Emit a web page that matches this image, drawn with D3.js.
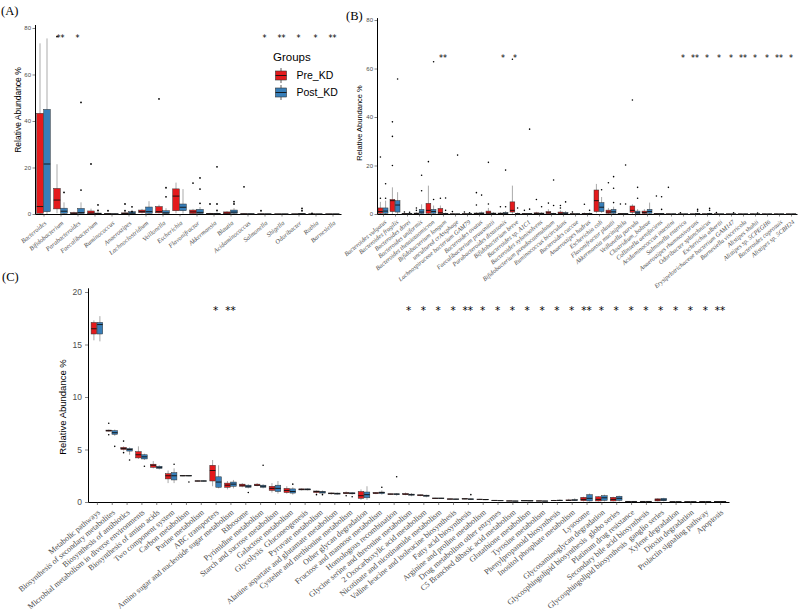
<!DOCTYPE html>
<html>
<head>
<meta charset="utf-8">
<script src="https://cdn.jsdelivr.net/npm/d3@7"></script>
<style>
body { margin: 0; background: #fff; }
text { white-space: pre; }
</style>
</head>
<body>
<div id="main"></div>
<script>
// ---------- panel A : genus ----------
var aCats = ["Bacteroides","Bifidobacterium","Parabacteroides","Faecalibacterium","Ruminococcus","Anaerostipes","Lachnoclostridium","Veillonella","Escherichia","Flavonifractor","Akkermansia","Blautia","Acidaminococcus","Salmonella","Shigella","Odoribacter","Rothia","Barnesiella"];
var aStars = ["","**","*","","","","","","","","","","","*","**","*","*","**"];
// [min, q1, median, q3, max]
var aPre = [[0,0.3,3.2,43.3,73.4],[0.3,2.2,6.0,11.0,21.4],[0,0.1,0.3,0.6,1.0],[0,0.1,0.4,1.3,2.3],[0,0,0.05,0.15,0.3],[0,0.05,0.2,0.5,1.0],[0.2,0.6,1.0,1.7,2.2],[0.2,0.5,1.0,3.2,4.0],[0.3,1.4,7.7,10.8,13.5],[0,0.2,0.9,1.7,2.2],[0,0.02,0.1,0.3,0.5],[0,0.1,0.4,0.9,1.2],[0,0,0.05,0.1,0.2],[0,0,0.02,0.05,0.1],[0,0,0.01,0.03,0.05],[0,0,0.01,0.03,0.05],[0,0,0.01,0.03,0.05],[0,0,0.01,0.03,0.05]];
var aPost = [[0,1.0,21.5,45.0,75.5],[0,0.3,1.2,2.5,5.0],[0,0.2,0.6,2.4,5.0],[0,0.05,0.2,0.4,0.8],[0,0,0.03,0.1,0.2],[0,0.1,0.4,1.0,1.8],[0,0.3,1.0,3.0,5.5],[0,0.2,0.5,1.4,2.5],[0.2,1.4,2.9,4.3,10.7],[0,0.2,0.7,2.0,3.0],[0,0.02,0.1,0.3,0.6],[0,0.3,0.8,1.7,2.5],[0,0,0.03,0.1,0.2],[0,0,0.02,0.05,0.1],[0,0,0.01,0.03,0.05],[0,0,0.05,0.2,0.4],[0,0,0.01,0.03,0.05],[0,0,0.01,0.03,0.05]];
var aPreOut = [[],[76.3],[],[21.5],[1.4],[4.3,1.4],[],[49.5],[],[13.3],[4.3],[],[11.7],[1.4],[],[],[0.3],[]];
var aPostOut = [[],[9.3],[48,10.3],[3.9,1.5],[],[3.1,1.0],[],[11.3,7.4],[],[15.5,10.7,4.6],[20.3,4.3,1.5],[5.3,4.3],[],[],[],[2.4,1.4],[],[]];

// ---------- panel B : species ----------
var bCats = ["Bacteroides vulgatus","Bacteroides fragilis","Bacteroides dorei","Bacteroides uniformis","Bacteroides thetaiotaomicron","Bifidobacterium longum","uncultured crAssphage","Lachnospiraceae bacterium GAM79","Bacteroides ovatus","Faecalibacterium prausnitzii","Parabacteroides distasonis","Bifidobacterium breve","Bacteroides sp. A1C1","Bacteroides xylanisolvens","Bifidobacterium pseudocatenulatum","Ruminococcus bicirculans","Bacteroides caccae","Anaerostipes hadrus","Escherichia coli","Flavonifractor plautii","Akkermansia muciniphila","Veillonella parvula","Clostridium_bolteae","Collinsella aerofaciens","Acidaminococcus intestini","Salmonella enterica","Anaerostipes rhamnosivorans","Odoribacter splanchnicus","Escherichia albertii","Erysipelotrichaceae bacterium GAM147","Barnesiella viscericola","Alistipes shahii","Alistipes sp. 5CPEGH6","Bacteroides coprosuis","Alistipes sp. 5CBH24"];
var bStars = ["","","","","","**","","","","","*","*","","","","","","","","","","","","","","*","**","*","*","*","**","*","*","**","*"];
var bPre = [[0,0.3,1.0,2.5,5.0],[0,1.0,5.5,6.0,11.0],[0,0,0.05,0.2,0.4],[0,0.05,0.2,0.4,0.8],[0,0.3,1.5,4.4,11.7],[0,0.1,0.5,2.3,3.5],[0,0,0.01,0.05,0.1],[0,0,0.05,0.1,0.2],[0,0.05,0.2,0.4,0.8],[0,0.1,0.4,1.2,2.5],[0,0.05,0.2,0.4,0.8],[0,0.8,1.5,5.0,11.7],[0,0,0.05,0.2,0.4],[0,0.05,0.2,0.5,0.9],[0,0.1,0.5,1.0,2.0],[0,0.1,0.3,0.8,1.5],[0,0,0.05,0.1,0.2],[0,0,0.1,0.3,0.6],[0.3,1.0,5.5,9.9,12.4],[0,0.3,0.8,1.6,2.5],[0,0,0.05,0.2,0.4],[0,0.7,1.5,3.3,4.0],[0,0.2,0.6,1.2,2.0],[0,0,0.05,0.2,0.4],[0,0,0.01,0.05,0.1],[0,0,0.01,0.03,0.05],[0,0,0.01,0.03,0.05],[0,0,0.01,0.05,0.1],[0,0,0.01,0.05,0.1],[0,0,0.01,0.03,0.05],[0,0,0.01,0.03,0.05],[0,0,0.01,0.03,0.05],[0,0,0.01,0.03,0.05],[0,0,0.01,0.03,0.05],[0,0,0.01,0.03,0.05]];
var bPost = [[0,0.3,1.2,2.5,5.5],[0,0.8,3.7,5.5,9.0],[0,0,0.05,0.2,0.4],[0,0.2,0.8,1.9,4.0],[0,0.3,1.0,1.9,3.5],[0,0,0.1,0.3,0.6],[0,0,0.01,0.03,0.05],[0,0,0.05,0.1,0.2],[0,0.05,0.2,0.5,1.0],[0,0.05,0.2,0.4,0.8],[0,0.1,0.3,0.6,1.2],[0,0,0.1,0.3,0.6],[0,0,0.05,0.2,0.4],[0,0.05,0.2,0.4,0.8],[0,0,0.1,0.3,0.5],[0,0.1,0.3,0.6,1.2],[0,0,0.05,0.1,0.2],[0,0.05,0.1,0.3,0.6],[0.5,1.0,2.8,4.7,7.0],[0,0.3,0.9,1.9,3.0],[0,0,0.05,0.2,0.4],[0,0.1,0.5,1.2,2.0],[0,0.3,1.0,1.9,4.7],[0,0,0.05,0.2,0.4],[0,0,0.01,0.05,0.1],[0,0,0.01,0.03,0.05],[0,0,0.05,0.2,0.4],[0,0,0.05,0.3,0.5],[0,0,0.01,0.03,0.05],[0,0,0.01,0.03,0.05],[0,0,0.01,0.03,0.05],[0,0,0.01,0.03,0.05],[0,0,0.01,0.03,0.05],[0,0,0.01,0.03,0.05],[0,0,0.01,0.03,0.05]];
var bPreOut = [[23.5,6.5],[38,32,20],[0.8],[2.5,1.5],[21.6],[6.5],[1.0],[0.8],[8.8,3.7],[21.3,4.1],[3.0],[63.8],[1.5],[6.0],[4.5],[3.5,2.5],[0.8],[4.0],[],[12.9],[4.1],[47],[],[7.4],[11],[0.5],[],[],[0.6],[],[],[],[],[],[]];
var bPostOut = [[12.5,6.5],[55.7],[0.7],[16,9.6],[62.8,6.0],[6.6,1.5],[24.3],[0.5],[7.8],[],[18.1,3.0],[2.5],[35,2.0],[3.0],[14,3.5],[5.0],[],[1.5],[10.0],[15.4,10.6,4.7],[20.2,4.1],[11,6.5],[],[7.1,1.9],[],[],[1.9,1.2],[2.3,1.5],[],[0.5],[],[0.4],[],[],[]];

// ---------- panel C : KEGG pathways ----------
var cCats = ["Metabolic pathways","Biosynthesis of secondary metabolites","Biosynthesis of antibiotics","Microbial metabolism in diverse environments","Biosynthesis of amino acids","Two component system","Carbon metabolism","Purine metabolism","ABC transporters","Amino sugar and nucleotide sugar metabolism","Ribosome","Pyrimidine metabolism","Starch and sucrose metabolism","Galactose metabolism","Glycolysis  Gluconeogenesis","Pyruvate metabolism","Alanine aspartate and glutamate metabolism","Cysteine and methionine metabolism","Other glycan degradation","Fructose and mannose metabolism","Homologous recombination","Glycine serine and threonine metabolism","2 Oxocarboxylic acid metabolism","Nicotinate and nicotinamide metabolism","Valine leucine and isoleucine biosynthesis","Fatty acid biosynthesis","Arginine and proline metabolism","Drug metabolism other enzymes","C5 Branched dibasic acid metabolism","Glutathione metabolism","Tyrosine metabolism","Phenylpropanoid biosynthesis","Inositol phosphate metabolism","Lysosome","Glycosaminoglycan degradation","Glycosphingolipid biosynthesis  globo series","Platinum drug resistance","Secondary bile acid biosynthesis","Glycosphingolipid biosynthesis  ganglio series","Xylene degradation","Dioxin degradation","Prolactin signaling pathway","Apoptosis"];
var cStars = ["","","","","","","","","*","**","","","","","","","","","","","","*","*","*","*","**","*","*","*","*","*","*","*","**","*","*","*","*","*","*","*","*","**"];
var cPre = [[15.4,16.0,16.5,17.1,17.3],[6.7,6.75,6.8,6.85,6.9],[4.9,5.0,5.1,5.2,5.3],[4.1,4.2,4.5,4.8,5.3],[3.2,3.3,3.5,3.6,3.9],[1.8,2.2,2.5,2.7,3.0],[2.45,2.48,2.5,2.52,2.55],[1.95,1.98,2.0,2.02,2.05],[1.5,2.0,3.0,3.5,4.0],[1.2,1.4,1.6,1.8,2.0],[1.4,1.5,1.6,1.7,1.8],[1.5,1.55,1.6,1.7,1.8],[0.9,1.1,1.3,1.5,1.8],[0.8,0.9,1.1,1.3,1.5],[1.1,1.15,1.2,1.25,1.3],[0.8,0.9,1.0,1.05,1.1],[0.7,0.78,0.82,0.86,0.9],[0.75,0.8,0.85,0.9,1.0],[0.2,0.35,0.6,1.0,1.2],[0.75,0.8,0.85,0.9,0.95],[0.7,0.72,0.75,0.78,0.8],[0.65,0.7,0.75,0.8,0.9],[0.55,0.6,0.65,0.68,0.7],[0.3,0.32,0.35,0.38,0.4],[0.24,0.26,0.28,0.3,0.32],[0.26,0.28,0.3,0.32,0.35],[0.2,0.23,0.25,0.27,0.3],[0.12,0.14,0.15,0.16,0.18],[0.08,0.09,0.1,0.11,0.12],[0.09,0.11,0.12,0.13,0.15],[0.08,0.09,0.1,0.11,0.12],[0.1,0.12,0.14,0.16,0.2],[0.1,0.13,0.15,0.2,0.3],[0.05,0.12,0.25,0.45,0.5],[0.05,0.1,0.25,0.5,0.55],[0.05,0.1,0.25,0.45,0.5],[0.03,0.04,0.05,0.06,0.07],[0.03,0.04,0.05,0.06,0.07],[0.05,0.1,0.2,0.3,0.35],[0.02,0.03,0.03,0.04,0.05],[0.02,0.03,0.03,0.04,0.05],[0.02,0.03,0.04,0.05,0.06],[0.01,0.02,0.02,0.03,0.04]];
var cPost = [[15.3,16.0,16.9,17.1,17.7],[6.3,6.45,6.6,6.8,6.9],[4.5,4.85,5.0,5.1,5.2],[4.0,4.1,4.3,4.5,4.6],[3.1,3.2,3.3,3.4,3.5],[1.8,2.1,2.5,2.8,3.2],[2.45,2.48,2.5,2.52,2.55],[1.95,1.98,2.0,2.02,2.05],[1.3,1.4,1.9,2.4,3.5],[1.3,1.5,1.7,1.9,2.1],[1.3,1.4,1.5,1.6,1.7],[1.3,1.4,1.5,1.6,1.7],[0.8,1.0,1.3,1.6,2.0],[0.7,0.85,1.0,1.25,1.4],[1.1,1.15,1.2,1.25,1.3],[0.8,0.85,0.95,1.0,1.1],[0.7,0.75,0.8,0.85,0.9],[0.7,0.78,0.82,0.88,0.95],[0.2,0.4,0.7,0.95,1.5],[0.7,0.8,0.9,0.95,1.1],[0.6,0.7,0.75,0.78,0.85],[0.55,0.65,0.7,0.75,0.85],[0.45,0.55,0.6,0.65,0.7],[0.3,0.32,0.35,0.38,0.4],[0.22,0.25,0.27,0.29,0.31],[0.2,0.24,0.27,0.3,0.33],[0.18,0.21,0.23,0.25,0.28],[0.1,0.12,0.13,0.14,0.16],[0.07,0.08,0.09,0.1,0.11],[0.08,0.1,0.11,0.12,0.14],[0.07,0.08,0.09,0.1,0.11],[0.1,0.13,0.15,0.18,0.25],[0.1,0.14,0.18,0.22,0.35],[0.05,0.1,0.35,0.7,0.8],[0.05,0.15,0.4,0.6,0.7],[0.05,0.15,0.35,0.55,0.6],[0.03,0.04,0.05,0.06,0.07],[0.03,0.04,0.05,0.06,0.07],[0.05,0.12,0.2,0.35,0.4],[0.02,0.03,0.03,0.04,0.05],[0.02,0.03,0.03,0.04,0.05],[0.02,0.03,0.04,0.05,0.06],[0.01,0.02,0.02,0.03,0.04]];
var cPreOut = [[],[7.5,6.4],[5.8,4.7],[],[],[],[],[],[],[],[],[],[],[],[],[0.7],[],[0.6],[],[],[],[],[],[],[],[],[],[],[],[],[],[],[],[],[],[],[],[],[],[],[],[],[]];
var cPostOut = [[],[5.3],[4.0],[3.4],[],[3.6],[1.9],[],[],[],[0.9],[3.5],[],[1.7],[],[0.7],[],[0.5],[],[1.4],[2.4],[],[],[],[],[0.7],[],[],[],[],[],[],[],[],[],[],[],[],[],[],[],[],[]];

var groups = ["Pre_KD", "Post_KD"];
var colors = ["#E41A1C", "#377EB8"];

var sans = "'Liberation Sans', Arial, sans-serif";
var serif = "'Liberation Serif', 'Times New Roman', serif";

var svg = d3.select("#main").append("svg")
    .attr("width", 800)
    .attr("height", 616);

function drawPanel(p) {
    var g = svg.append("g");
    var x = d3.scalePoint().domain(p.cats).range(p.xRange).padding(p.xPad);
    var y = d3.scaleLinear().domain(p.yDomain).range(p.yRange);
    var y0 = y(0);

    // y axis
    var ya = g.append("g")
        .attr("transform", "translate(" + p.xRange[0] + ",0)")
        .call(d3.axisLeft(y).tickValues(p.yTicks).tickSize(p.tick).tickSizeOuter(0).tickPadding(p.yPadT));
    ya.select(".domain").attr("stroke", "#000").attr("stroke-width", 1);
    ya.selectAll(".tick line").attr("stroke", "#333").attr("stroke-width", 0.6);
    ya.selectAll(".tick text")
        .attr("fill", "#4d4d4d")
        .attr("font-size", p.yFs)
        .attr("font-family", sans);

    // x axis
    var xa = g.append("g")
        .attr("transform", "translate(0," + y0 + ")")
        .call(d3.axisBottom(x).tickSize(p.tick).tickSizeOuter(0).tickFormat(""));
    xa.select(".domain").attr("stroke", "#000").attr("stroke-width", 1);
    xa.selectAll(".tick line").attr("stroke", "#333").attr("stroke-width", 0.6);

    g.selectAll(".xlab").data(p.cats).join("text")
        .attr("transform", function(d) { return "translate(" + (x(d) + p.lx) + "," + (y0 + p.ly) + ") rotate(-40)"; })
        .attr("text-anchor", "end")
        .attr("dy", "0.35em")
        .attr("fill", "#4d4d4d")
        .attr("font-size", p.xFs)
        .attr("font-style", p.italic ? "italic" : "normal")
        .attr("font-family", serif)
        .text(function(d) { return d; });

    // boxes
    var sets = [[p.pre, p.preOut, -1], [p.post, p.postOut, 1]];
    sets.forEach(function(s, k) {
        var stats = s[0], outs = s[1], side = s[2];
        var left = function(i) {
            var c = x(p.cats[i]);
            return side < 0 ? c - p.gap / 2 - p.bw : c + p.gap / 2;
        };
        var mid = function(i) { return left(i) + p.bw / 2; };
        var bg = g.append("g");
        bg.selectAll(".wl").data(stats).join("line")
            .attr("x1", function(d, i) { return mid(i); })
            .attr("x2", function(d, i) { return mid(i); })
            .attr("y1", function(d) { return y(d[0]); })
            .attr("y2", function(d) { return y(d[4]); })
            .attr("stroke", "#555").attr("stroke-width", 0.5);
        bg.selectAll(".bx").data(stats).join("rect")
            .attr("x", function(d, i) { return left(i); })
            .attr("y", function(d) { return y(d[3]); })
            .attr("width", p.bw)
            .attr("height", function(d) { return Math.max(0, y(d[1]) - y(d[3])); })
            .attr("fill", colors[k])
            .attr("stroke", "#333").attr("stroke-width", 0.5);
        bg.selectAll(".md").data(stats).join("line")
            .attr("x1", function(d, i) { return left(i); })
            .attr("x2", function(d, i) { return left(i) + p.bw; })
            .attr("y1", function(d) { return y(d[2]); })
            .attr("y2", function(d) { return y(d[2]); })
            .attr("stroke", "#111").attr("stroke-width", 0.9);
        var pts = [];
        outs.forEach(function(o, i) { o.forEach(function(v) { pts.push([mid(i), v]); }); });
        bg.selectAll(".ot").data(pts).join("circle")
            .attr("cx", function(d) { return d[0]; })
            .attr("cy", function(d) { return y(d[1]); })
            .attr("r", p.dot)
            .attr("fill", "#000");
    });

    // significance marks
    g.selectAll(".star").data(p.stars).join("text")
        .attr("x", function(d, i) { return x(p.cats[i]); })
        .attr("y", p.starY + p.starFs * 0.5)
        .attr("text-anchor", "middle")
        .attr("font-size", p.starFs)
        .attr("font-family", "'DejaVu Sans', sans-serif")
        .attr("fill", "#000")
        .text(function(d) { return d; });

    // y title
    g.append("text")
        .attr("transform", "translate(" + p.titleX + "," + p.titleY + ") rotate(-90)")
        .attr("text-anchor", "middle")
        .attr("font-size", p.titleFs)
        .attr("font-family", sans)
        .attr("fill", "#000")
        .text("Relative Abundance %");

    // panel tag
    g.append("text")
        .attr("x", p.tagX).attr("y", p.tagY)
        .attr("font-size", 12.5)
        .attr("font-family", serif)
        .attr("fill", "#000")
        .text(p.tag);
}

drawPanel({
    cats: aCats, pre: aPre, post: aPost, preOut: aPreOut, postOut: aPostOut, stars: aStars,
    xRange: [35, 341], xPad: 0.5, yDomain: [0, 81.5], yRange: [214, 24.5], yTicks: [0, 20, 40, 60, 80],
    tick: 2.5, yPadT: 1.5, yFs: 6, xFs: 6.5, italic: true, lx: 2, ly: 8,
    bw: 6.6, gap: 0.4, dot: 0.9, starY: 37, starFs: 8,
    titleX: 21, titleY: 110, titleFs: 8.5, tag: "(A)", tagX: 1, tagY: 15
});

drawPanel({
    cats: bCats, pre: bPre, post: bPost, preOut: bPreOut, postOut: bPostOut, stars: bStars,
    xRange: [377, 797], xPad: 0.5, yDomain: [0, 81], yRange: [214, 17.6], yTicks: [0, 20, 40, 60, 80],
    tick: 2.5, yPadT: 1.5, yFs: 6, xFs: 6.3, italic: true, lx: 2.5, ly: 7,
    bw: 4.8, gap: 0.4, dot: 0.8, starY: 57, starFs: 8,
    titleX: 362, titleY: 123, titleFs: 7.5, tag: "(B)", tagX: 346, tagY: 20
});

drawPanel({
    cats: cCats, pre: cPre, post: cPost, preOut: cPreOut, postOut: cPostOut, stars: cStars,
    xRange: [88, 729], xPad: 0.6, yDomain: [0, 20.4], yRange: [502, 287.8], yTicks: [0, 5, 10, 15, 20],
    tick: 3, yPadT: 3, yFs: 8.5, xFs: 8, italic: false, lx: 2, ly: 9,
    bw: 5.6, gap: 0.4, dot: 0.8, starY: 309, starFs: 10.5,
    titleX: 66, titleY: 407, titleFs: 9.5, tag: "(C)", tagX: 2, tagY: 281
});

// legend (panel A)
var lg = svg.append("g");
lg.append("text")
    .attr("x", 273).attr("y", 61)
    .attr("font-size", 11.5).attr("font-family", sans).attr("fill", "#000")
    .text("Groups");
var keys = lg.selectAll(".key").data(groups).join("g")
    .attr("transform", function(d, i) { return "translate(275," + (68 + i * 17) + ")"; });
keys.append("line")
    .attr("x1", 6).attr("x2", 6).attr("y1", 0).attr("y2", 15)
    .attr("stroke", "#333").attr("stroke-width", 0.8);
keys.append("rect")
    .attr("x", 0.5).attr("y", 3).attr("width", 11).attr("height", 9)
    .attr("fill", function(d, i) { return colors[i]; })
    .attr("stroke", "#333").attr("stroke-width", 0.6);
keys.append("line")
    .attr("x1", 0.5).attr("x2", 11.5).attr("y1", 7.5).attr("y2", 7.5)
    .attr("stroke", "#111").attr("stroke-width", 0.9);
keys.append("text")
    .attr("x", 21.5).attr("y", 7.5).attr("dy", "0.35em")
    .attr("font-size", 10.5).attr("font-family", sans).attr("fill", "#000")
    .text(function(d) { return d; });
</script>
</body>
</html>
